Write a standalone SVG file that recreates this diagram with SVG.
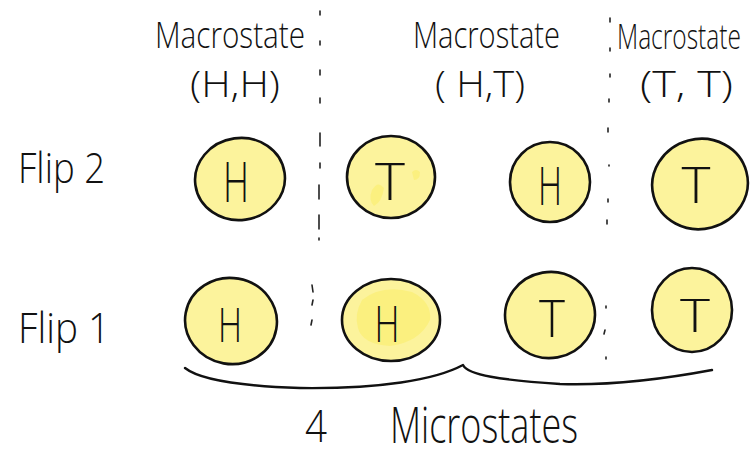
<svg xmlns="http://www.w3.org/2000/svg" width="752" height="457" viewBox="0 0 752 457">
<style>
.coin{fill:#fcf39c;stroke:#111;stroke-width:2.6}
.blot{fill:#f9ea4a;opacity:.35}
.hand{font-family:"Open Sans","Liberation Sans",sans-serif;font-weight:300;fill:#111}
.sep{fill:none;stroke:#222;stroke-width:1.6;stroke-linecap:round}
.brace{fill:none;stroke:#111;stroke-width:2.4;stroke-linecap:round;stroke-linejoin:round}
</style>
<rect width="752" height="457" fill="#fff"/>
<g id="labels">
  <g id="macro-hh">
    <text class="hand" x="155" y="48" font-size="36" textLength="150" lengthAdjust="spacingAndGlyphs">Macrostate</text>
    <text class="hand" x="190" y="97" font-size="37" textLength="90" lengthAdjust="spacingAndGlyphs">(H,H)</text>
  </g>
  <g id="macro-ht">
    <text class="hand" x="413" y="48" font-size="36" textLength="147" lengthAdjust="spacingAndGlyphs">Macrostate</text>
    <text class="hand" x="435" y="97" font-size="37" textLength="90" lengthAdjust="spacingAndGlyphs">( H,T)</text>
  </g>
  <g id="macro-tt">
    <text class="hand" transform="translate(617,49) scale(0.72,1)" x="0" y="0" font-size="34" textLength="172" lengthAdjust="spacingAndGlyphs">Macrostate</text>
    <text class="hand" x="640" y="97" font-size="37" textLength="93" lengthAdjust="spacingAndGlyphs">(T, T)</text>
  </g>
  <g id="flip2">
    <text class="hand" x="18" y="183" font-size="43" textLength="87" lengthAdjust="spacingAndGlyphs">Flip 2</text>
  </g>
  <g id="flip1">
    <text class="hand" x="18" y="343" font-size="43" textLength="92" lengthAdjust="spacingAndGlyphs">Flip 1</text>
  </g>
  <g id="microstates">
    <text class="hand" x="305" y="442" font-size="44" textLength="22" lengthAdjust="spacingAndGlyphs">4</text>
    <text class="hand" x="390" y="443" font-size="50" textLength="188" lengthAdjust="spacingAndGlyphs">Microstates</text>
  </g>
</g>
<g id="coin-f2-1">
  <ellipse class="coin" cx="240" cy="179" rx="45" ry="41" transform="rotate(-8 240 179)"/>
  <text class="hand" x="236" y="202" font-size="56" text-anchor="middle" textLength="26" lengthAdjust="spacingAndGlyphs">H</text>
</g>
<g id="coin-f2-2">
  <ellipse class="coin" cx="391" cy="177" rx="44" ry="41"/>
  <path class="blot" d="M372,190 q6,-10 12,-2 q-2,14 -10,18 q-6,-6 -2,-16z M412,172 q4,-4 8,0 q0,8 -6,8z"/>
  <text class="hand" x="390" y="200" font-size="52" text-anchor="middle" textLength="30" lengthAdjust="spacingAndGlyphs">T</text>
</g>
<g id="coin-f2-3">
  <ellipse class="coin" cx="550" cy="182" rx="40" ry="40"/>
  <text class="hand" x="550" y="205" font-size="54" text-anchor="middle" textLength="24" lengthAdjust="spacingAndGlyphs">H</text>
</g>
<g id="coin-f2-4">
  <ellipse class="coin" cx="700" cy="184" rx="48" ry="45" transform="rotate(-15 700 184)"/>
  <text class="hand" x="696" y="203" font-size="50" text-anchor="middle" textLength="29" lengthAdjust="spacingAndGlyphs">T</text>
</g>
<g id="coin-f1-1">
  <ellipse class="coin" cx="231" cy="321" rx="46" ry="43" transform="rotate(10 231 321)"/>
  <text class="hand" x="230" y="342" font-size="48" text-anchor="middle" textLength="24" lengthAdjust="spacingAndGlyphs">H</text>
</g>
<g id="coin-f1-2">
  <ellipse class="coin" cx="391" cy="320" rx="49" ry="41"/>
  <path class="blot" d="M362,300 q20,-16 50,-8 q20,10 18,28 q-10,22 -40,26 q-28,-2 -32,-18 q-4,-14 4,-28z"/>
  <text class="hand" x="387" y="342" font-size="50" text-anchor="middle" textLength="25" lengthAdjust="spacingAndGlyphs">H</text>
</g>
<g id="coin-f1-3">
  <ellipse class="coin" cx="550" cy="315" rx="45" ry="43" transform="rotate(-10 550 315)"/>
  <text class="hand" x="552" y="337" font-size="52" text-anchor="middle" textLength="26" lengthAdjust="spacingAndGlyphs">T</text>
</g>
<g id="coin-f1-4">
  <ellipse class="coin" cx="692" cy="310" rx="40" ry="42"/>
  <text class="hand" x="695" y="332" font-size="46" text-anchor="middle" textLength="30" lengthAdjust="spacingAndGlyphs">T</text>
</g>
<g id="connectors">
  <path class="sep" d="M320,11v4 M320,41v4 M320,70v5 M320,98v5 M320,133v13 M320,163v5 M319,185v14 M319,215v14 M319,238v2 M312,285l1,7 M313,300l-1,5 M312,320l-1,5"/>
  <path class="sep" d="M610,18v4 M610,48v3 M610,74v3 M609,99v3 M608,128v4 M609,165v1 M608,199v3 M607,220v4 M606,306v2 M605,330l-1,4 M606,357v2"/>
  <path class="brace" d="M185,368 C200,380 240,386 300,388 C380,389 435,380 463,365 C468,375 500,380 560,384 C620,386 680,376 712,370"/>
</g>
</svg>
